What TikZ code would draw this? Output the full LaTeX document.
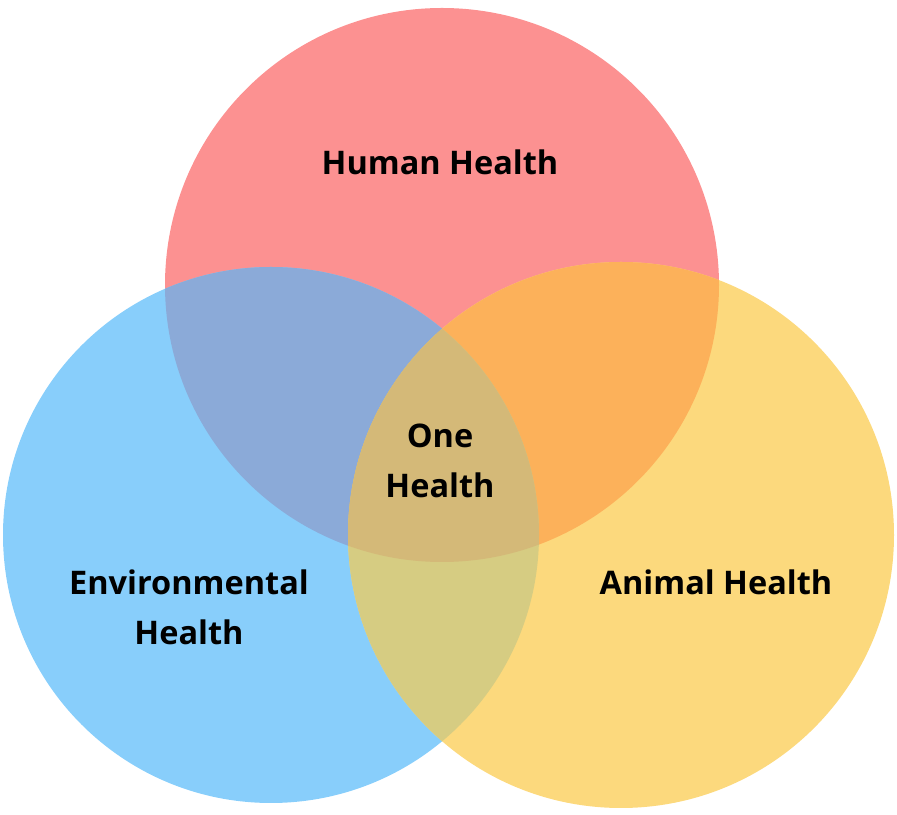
\documentclass[tikz,border=0pt]{standalone}
\usepackage{fontspec}
\setmainfont{Open Sans}
\definecolor{humanred}{RGB}{252,145,145}
\definecolor{envblue}{RGB}{136,206,251}
\definecolor{animalyellow}{RGB}{252,217,125}
\definecolor{humanenv}{RGB}{139,170,216}
\definecolor{humananimal}{RGB}{252,177,90}
\definecolor{envanimal}{RGB}{214,204,130}
\definecolor{onehealth}{RGB}{212,185,120}

\tikzset{
  label/.style={font=\fontsize{18.5}{28.5}\selectfont\bfseries, align=center, text=black, inner sep=0pt}
}

\begin{document}
\begin{tikzpicture}[x=0.02cm,y=0.02cm]
\useasboundingbox (0,0) rectangle (897,815);
% the three circles
\fill[humanred] (442,530) circle (277);
\fill[envblue] (271,280) circle (268);
\fill[animalyellow] (621,280) circle (273);
% pairwise overlaps
\begin{scope}
\clip (442,530) circle (277);
\fill[humanenv] (271,280) circle (268);
\fill[humananimal] (621,280) circle (273);
\end{scope}
\begin{scope}
\clip (271,280) circle (268);
\fill[envanimal] (621,280) circle (273);
\clip (621,280) circle (273);
\fill[onehealth] (442,530) circle (277);
\end{scope}
% labels
\node[label] (human) at (440,653) {Human Health};
\node[label] (one) at (440,354) {One\\Health};
\node[label] (env) at (189,208) {Environmental\\Health};
\node[label] (animal) at (716,233) {Animal Health};
\end{tikzpicture}
\end{document}
